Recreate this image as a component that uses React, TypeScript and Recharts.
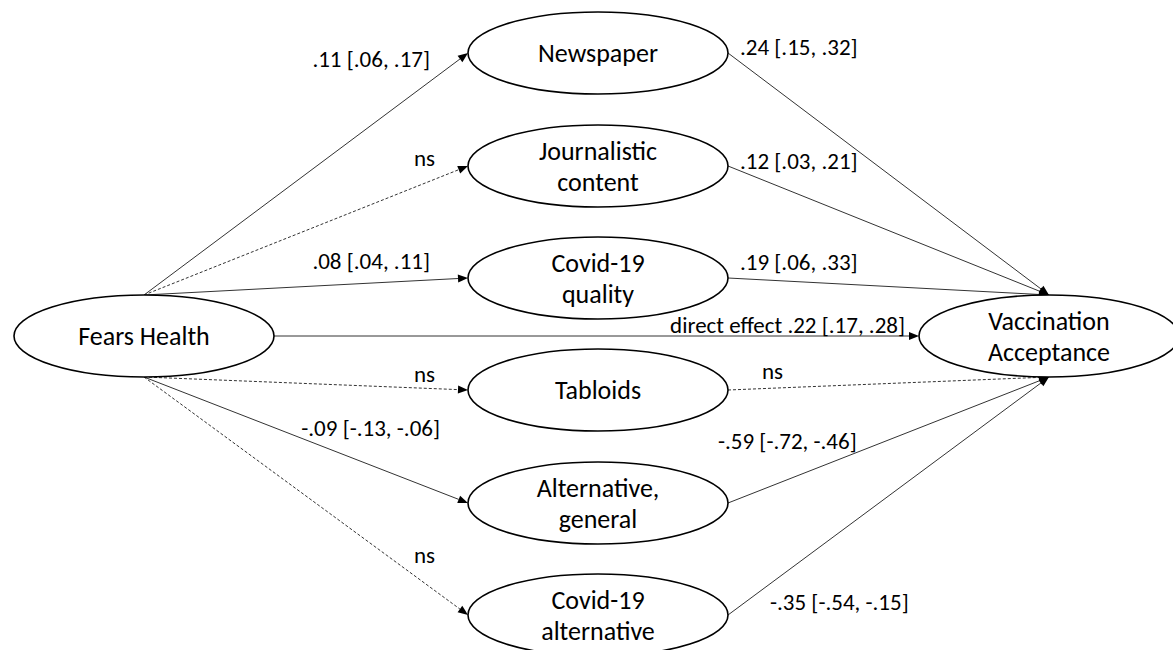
import { ScatterChart, Scatter, XAxis, YAxis } from "recharts";

const W = 1173;
const H = 650;
const RX = 130;
const RY = 41;
const FONT = "Carlito, Lato, sans-serif";

// latent variables (centre of each ellipse, diagram units)
const nodes = [
  { id: "fear", lines: ["Fears Health"], x: 144, y: 336 },
  { id: "news", lines: ["Newspaper"], x: 598, y: 53 },
  { id: "journ", lines: ["Journalistic", "content"], x: 598, y: 166 },
  { id: "cq", lines: ["Covid-19", "quality"], x: 598, y: 278 },
  { id: "tab", lines: ["Tabloids"], x: 598, y: 390 },
  { id: "alt", lines: ["Alternative,", "general"], x: 598, y: 503 },
  { id: "calt", lines: ["Covid-19", "alternative"], x: 598, y: 615 },
  { id: "vacc", lines: ["Vaccination", "Acceptance"], x: 1049, y: 336 },
];

// paths: dashed = not significant
const edges = [
  { from: "fear", fs: "top", to: "news", ts: "left", dashed: false },
  { from: "fear", fs: "top", to: "journ", ts: "left", dashed: true },
  { from: "fear", fs: "top", to: "cq", ts: "left", dashed: false },
  { from: "fear", fs: "right", to: "vacc", ts: "left", dashed: false },
  { from: "fear", fs: "bottom", to: "tab", ts: "left", dashed: true },
  { from: "fear", fs: "bottom", to: "alt", ts: "left", dashed: false },
  { from: "fear", fs: "bottom", to: "calt", ts: "left", dashed: true },
  { from: "news", fs: "right", to: "vacc", ts: "top", dashed: false },
  { from: "journ", fs: "right", to: "vacc", ts: "top", dashed: false },
  { from: "cq", fs: "right", to: "vacc", ts: "top", dashed: false },
  { from: "tab", fs: "right", to: "vacc", ts: "bottom", dashed: true },
  { from: "alt", fs: "right", to: "vacc", ts: "bottom", dashed: false },
  { from: "calt", fs: "right", to: "vacc", ts: "bottom", dashed: false },
];

// coefficient labels
const pathLabels = [
  { text: ".11 [.06, .17]", x: 430, y: 59, anchor: "end" },
  { text: "ns", x: 435, y: 158, anchor: "end" },
  { text: ".08 [.04, .11]", x: 430, y: 261, anchor: "end" },
  { text: "direct effect .22 [.17, .28]", x: 905, y: 325, anchor: "end" },
  { text: "ns", x: 435, y: 374, anchor: "end" },
  { text: "-.09 [-.13, -.06]", x: 440, y: 428, anchor: "end" },
  { text: "ns", x: 435, y: 555, anchor: "end" },
  { text: ".24 [.15, .32]", x: 740, y: 47, anchor: "start" },
  { text: ".12 [.03, .21]", x: 740, y: 161, anchor: "start" },
  { text: ".19 [.06, .33]", x: 740, y: 262, anchor: "start" },
  { text: "ns", x: 762, y: 371, anchor: "start" },
  { text: "-.59 [-.72, -.46]", x: 718, y: 441, anchor: "start" },
  { text: "-.35 [-.54, -.15]", x: 770, y: 602, anchor: "start" },
];

const byId = Object.fromEntries(nodes.map((n) => [n.id, n]));

const anchorOf = (id: string, side: string) => {
  const n = byId[id];
  if (side === "top") return { x: n.x, y: n.y - RY };
  if (side === "bottom") return { x: n.x, y: n.y + RY };
  if (side === "left") return { x: n.x - RX, y: n.y };
  return { x: n.x + RX, y: n.y };
};

const renderEdge = (dashed: boolean) => (props: any) => {
  const [a, b] = props.points;
  const dx = b.x - a.x;
  const dy = b.y - a.y;
  const len = Math.hypot(dx, dy);
  const ux = dx / len;
  const uy = dy / len;
  const hl = 10;
  const hw = 4;
  const bx = b.x - ux * hl;
  const by = b.y - uy * hl;
  const tri = `${b.x},${b.y} ${bx - uy * hw},${by + ux * hw} ${bx + uy * hw},${by - ux * hw}`;
  return (
    <g>
      <line
        x1={a.x}
        y1={a.y}
        x2={bx}
        y2={by}
        stroke="#333"
        strokeWidth={1}
        strokeDasharray={dashed ? "3 2" : undefined}
      />
      <polygon points={tri} fill="#000" />
    </g>
  );
};

const NodeShape = (props: any) => {
  const { cx, cy, payload } = props;
  const lines: string[] = payload.lines;
  const gap = 31;
  const start = cy - ((lines.length - 1) * gap) / 2;
  return (
    <g>
      <ellipse cx={cx} cy={cy} rx={RX} ry={RY} fill="#fff" stroke="#000" strokeWidth={1.6} />
      {lines.map((t, i) => (
        <text
          key={i}
          x={cx}
          y={start + i * gap}
          textAnchor="middle"
          dominantBaseline="central"
          fontFamily={FONT}
          fontSize={26}
          fill="#000"
        >
          {t}
        </text>
      ))}
    </g>
  );
};

const LabelShape = (props: any) => {
  const { cx, cy, payload } = props;
  return (
    <text
      x={cx}
      y={cy}
      textAnchor={payload.anchor}
      dominantBaseline="central"
      fontFamily={FONT}
      fontSize={23}
      fill="#000"
    >
      {payload.text}
    </text>
  );
};

const App = () => (
  <div style={{ position: "absolute", left: 0, top: 0, width: W, height: H, background: "#fff" }}>
    <ScatterChart width={W} height={H} margin={{ top: 0, right: 0, bottom: 0, left: 0 }}>
      <XAxis type="number" dataKey="x" domain={[0, W]} hide />
      <YAxis type="number" dataKey="y" domain={[0, H]} reversed hide />
      {edges.map((e, i) => (
        <Scatter
          key={`edge-${i}`}
          data={[anchorOf(e.from, e.fs), anchorOf(e.to, e.ts)]}
          line={renderEdge(e.dashed)}
          shape={() => <g />}
          isAnimationActive={false}
        />
      ))}
      <Scatter data={nodes} shape={NodeShape} isAnimationActive={false} />
      <Scatter data={pathLabels} shape={LabelShape} isAnimationActive={false} />
    </ScatterChart>
  </div>
);

export default App;
